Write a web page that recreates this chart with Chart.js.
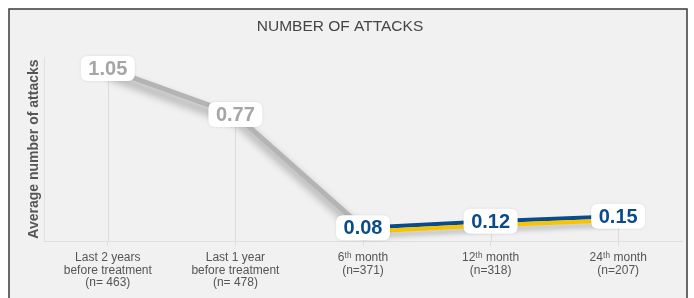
<!DOCTYPE html>
<html>
<head>
<meta charset="utf-8">
<script src="https://cdn.jsdelivr.net/npm/chart.js@4.4.1/dist/chart.umd.min.js"></script>
<style>
  html, body { margin: 0; padding: 0; background: #ffffff; }
  #c { display: block; }
</style>
</head>
<body>
<canvas id="c" width="694" height="298"></canvas>
<script>
// ---- data ----
const chartTitle = "NUMBER OF ATTACKS";
const yAxisTitle = "Average number of attacks";
const categories = [
  ["Last 2 years", "before treatment", "(n= 463)"],
  ["Last 1 year", "before treatment", "(n= 478)"],
  ["6\u1D57\u02B0 month", "(n=371)"],
  ["12\u1D57\u02B0 month", "(n=318)"],
  ["24\u1D57\u02B0 month", "(n=207)"]
];
const beforeValues = [1.05, 0.77, 0.08, null, null];
const afterValues = [null, null, 0.08, 0.12, 0.15];

// ---- styles ----
const FONT = "'Liberation Sans', Arial, Helvetica, sans-serif";
const GRAY_LINE = "#b4b4b4";
const GRAY_TEXT = "#a5a5a5";
const BLUE = "#0c4b8a";
const YELLOW = "#f6c500";

const framePlugin = {
  id: 'frame',
  beforeDraw(chart) {
    const ctx = chart.ctx;
    ctx.save();
    ctx.fillStyle = '#ffffff';
    ctx.fillRect(0, 0, chart.width, chart.height);
    ctx.fillStyle = '#f1f1f1';
    ctx.fillRect(9, 9, 678, chart.height);
    ctx.strokeStyle = '#3a3a3a';
    ctx.lineWidth = 1.5;
    ctx.beginPath();
    ctx.moveTo(9, chart.height + 5);
    ctx.lineTo(9, 9);
    ctx.lineTo(687, 9);
    ctx.lineTo(687, chart.height + 5);
    ctx.stroke();
    ctx.restore();
  }
};

const titleShiftPlugin = {
  id: 'titleShift',
  afterLayout(chart) {
    const t = chart.titleBlock;
    if (t) { t.left -= 7; t.right -= 7; }
  }
};

const dropLinePlugin = {
  id: 'dropLines',
  beforeDatasetsDraw(chart) {
    const ctx = chart.ctx;
    const bottom = chart.chartArea.bottom;
    ctx.save();
    ctx.strokeStyle = '#dcdcdc';
    ctx.lineWidth = 1;
    categories.forEach((c, i) => {
      const ds = afterValues[i] != null ? 2 : 0;
      const el = chart.getDatasetMeta(ds).data[i];
      if (!el) return;
      const x = Math.round(el.x) + 0.5;
      ctx.beginPath();
      ctx.moveTo(x, el.y);
      ctx.lineTo(x, bottom);
      ctx.stroke();
    });
    ctx.restore();
  }
};

const lineStylePlugin = {
  id: 'lineStyle',
  beforeDatasetDraw(chart, args) {
    const ctx = chart.ctx;
    ctx.save();
    if (args.index === 0) {
      ctx.shadowColor = 'rgba(0,0,0,0.4)';
      ctx.shadowBlur = 9;
      ctx.shadowOffsetX = 2;
      ctx.shadowOffsetY = 7;
    } else if (args.index === 1) {
      ctx.translate(0, 4);
      ctx.shadowColor = 'rgba(0,0,0,0.25)';
      ctx.shadowBlur = 5;
      ctx.shadowOffsetY = 4;
    }
  },
  afterDatasetDraw(chart) {
    chart.ctx.restore();
  }
};

function roundRect(ctx, x, y, w, h, r) {
  ctx.beginPath();
  ctx.moveTo(x + r, y);
  ctx.lineTo(x + w - r, y);
  ctx.quadraticCurveTo(x + w, y, x + w, y + r);
  ctx.lineTo(x + w, y + h - r);
  ctx.quadraticCurveTo(x + w, y + h, x + w - r, y + h);
  ctx.lineTo(x + r, y + h);
  ctx.quadraticCurveTo(x, y + h, x, y + h - r);
  ctx.lineTo(x, y + r);
  ctx.quadraticCurveTo(x, y, x + r, y);
  ctx.closePath();
}

const valueLabelPlugin = {
  id: 'valueLabels',
  afterDatasetsDraw(chart) {
    const ctx = chart.ctx;
    categories.forEach((c, i) => {
      const isAfter = afterValues[i] != null;
      const ds = isAfter ? 2 : 0;
      const v = isAfter ? afterValues[i] : beforeValues[i];
      const el = chart.getDatasetMeta(ds).data[i];
      if (!el || v == null) return;
      const w = 54, h = 25;
      ctx.save();
      ctx.shadowColor = 'rgba(0,0,0,0.10)';
      ctx.shadowBlur = 3;
      ctx.fillStyle = '#ffffff';
      roundRect(ctx, el.x - w / 2, el.y - h / 2, w, h, 7);
      ctx.fill();
      ctx.restore();
      ctx.save();
      ctx.fillStyle = isAfter ? BLUE : GRAY_TEXT;
      ctx.font = "bold 20px " + FONT;
      ctx.textAlign = 'center';
      ctx.textBaseline = 'middle';
      ctx.fillText(v.toFixed(2), el.x, el.y + 1);
      ctx.restore();
    });
  }
};

new Chart(document.getElementById('c'), {
  type: 'line',
  data: {
    labels: categories,
    datasets: [
      { data: beforeValues, borderColor: GRAY_LINE, borderWidth: 5, pointRadius: 0, tension: 0, spanGaps: false },
      { data: afterValues, borderColor: YELLOW, borderWidth: 4, pointRadius: 0, tension: 0 },
      { data: afterValues, borderColor: BLUE, borderWidth: 4, pointRadius: 0, tension: 0 }
    ]
  },
  options: {
    responsive: false,
    devicePixelRatio: 1,
    animation: false,
    layout: { padding: { left: 12, right: 12, top: 0, bottom: 0 } },
    plugins: {
      legend: { display: false },
      tooltip: { enabled: false },
      title: {
        display: true,
        text: chartTitle,
        color: '#444444',
        font: { family: FONT, size: 15.5, weight: 'normal', lineHeight: 1.2 },
        padding: { top: 17.5, bottom: 21 }
      }
    },
    scales: {
      x: {
        offset: true,
        afterFit(scale) { scale.height = 57; },
        border: { display: true, color: '#dedede', width: 1 },
        grid: { drawOnChartArea: false, drawTicks: true, tickLength: 5, color: '#dedede' },
        ticks: {
          color: '#555555',
          maxRotation: 0,
          autoSkip: false,
          padding: 5.5,
          font: { family: FONT, size: 12, lineHeight: 1.05 }
        }
      },
      y: {
        min: 0,
        max: 1.12,
        afterFit(scale) { scale.width = 32; },
        border: { display: true, color: '#e0e0e0', width: 1 },
        grid: { display: false },
        ticks: { display: false },
        title: {
          display: true,
          text: yAxisTitle,
          color: '#555555',
          font: { family: FONT, size: 14, weight: 'bold' },
          padding: { top: 13.5, bottom: 0 }
        }
      }
    }
  },
  plugins: [framePlugin, titleShiftPlugin, dropLinePlugin, lineStylePlugin, valueLabelPlugin]
});
</script>
</body>
</html>
